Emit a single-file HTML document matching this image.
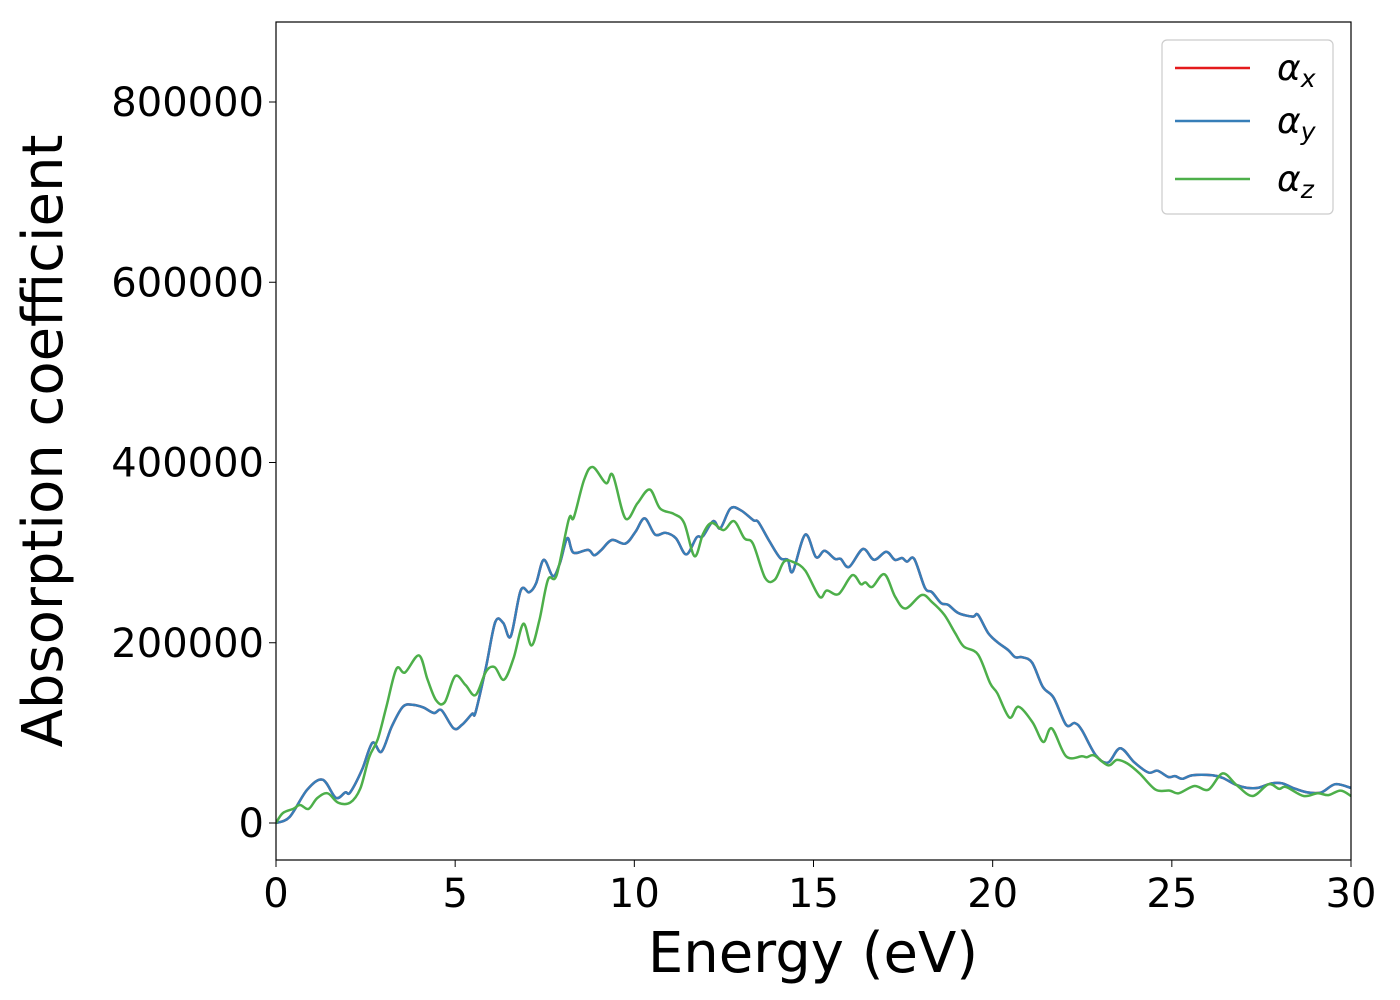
<!DOCTYPE html>
<html><head><meta charset="utf-8"><style>
body{margin:0;background:#fff;}
svg{display:block;font-family:"DejaVu Sans","Liberation Sans",sans-serif;}
</style></head><body>
<svg id="chart" width="1400" height="1000">
<rect x="0" y="0" width="1400" height="1000" fill="#fff"/>
<g id="lines"></g>
<rect x="276" y="22" width="1075" height="838" fill="none" stroke="#000" stroke-width="1.2"/>
<g id="xticks"></g>
<g id="yticks"></g>
<text x="813" y="972" font-size="56" text-anchor="middle">Energy (eV)</text>
<text transform="translate(62,441) rotate(-90)" font-size="56" text-anchor="middle">Absorption coefficient</text>
<g>
<rect x="1162" y="40" width="171" height="174" rx="5" fill="#fff" fill-opacity="0.8" stroke="#ccc" stroke-width="1.2"/>
<g><line x1="1175" y1="68" x2="1250" y2="68" stroke="#e41a1c" stroke-width="2.5"/><text x="1277" y="80" font-size="36" font-style="italic">α<tspan font-size="25" dy="7">x</tspan></text></g>
<g><line x1="1175" y1="121" x2="1250" y2="121" stroke="#377eb8" stroke-width="2.5"/><text x="1277" y="133" font-size="36" font-style="italic">α<tspan font-size="25" dy="7">y</tspan></text></g>
<g><line x1="1175" y1="179" x2="1250" y2="179" stroke="#4daf4a" stroke-width="2.5"/><text x="1277" y="191" font-size="36" font-style="italic">α<tspan font-size="25" dy="7">z</tspan></text></g>
</g>
</svg>
<script>
const xTicks=[0,5,10,15,20,25,30];
const yTicks=[0,200000,400000,600000,800000];
const energyXY=[0,0.38,0.87,1.3,1.67,1.93,2.07,2.4,2.69,2.94,3.23,3.54,3.83,4.12,4.41,4.62,4.96,5.19,5.47,5.57,5.86,6.12,6.34,6.55,6.83,7.07,7.26,7.47,7.73,7.92,8.13,8.3,8.71,8.88,9.08,9.37,9.75,10.03,10.29,10.58,10.87,11.16,11.45,11.74,11.91,12.2,12.4,12.68,12.97,13.32,13.46,13.75,14.07,14.28,14.42,
14.77,15.07,15.31,15.6,15.76,15.99,16.38,16.69,17.03,17.27,17.47,17.61,17.81,18.11,18.31,18.56,18.76,19.04,19.44,19.59,19.87,20.12,20.43,20.63,20.82,21.1,21.4,21.7,22.05,22.29,22.49,22.88,23.22,23.56,23.96,24.35,24.6,24.9,25.09,25.29,25.58,26.13,26.42,26.81,27.1,27.4,27.79,28.08,28.38,28.78,29.17,29.56,30];
const alphaY=[0,6700,37000,48000,28000,34000,34000,59000,89000,79000,107000,129000,131000,128000,122000,125000,105000,109000,121000,123000,173000,223000,222000,207000,258000,256000,266000,292000,274000,288000,316000,300000,303000,297000,303000,314000,310000,323000,338000,320000,322000,316000,298000,317000,318000,335000,327000,349000,347000,336000,334000,314000,294000,292000,279000,
320000,295000,302000,293000,293000,284000,304000,292000,301000,292000,294000,290000,293000,261000,256000,244000,242000,233000,229000,231000,211000,201000,192000,184000,184000,178000,151000,139000,109000,111000,103000,75000,67000,83000,67000,56000,58000,51000,52000,49000,53000,53000,50000,42000,39000,39000,44000,44000,39000,34000,34000,43000,39000];
const alphaX=alphaY.slice();
const energyZ=[0,0.19,0.48,0.67,0.91,1.15,1.44,1.73,2.07,2.35,2.6,2.84,3.08,3.36,3.6,3.99,4.23,4.47,4.71,5.0,5.29,5.57,5.86,6.1,6.36,6.63,6.9,7.13,7.35,7.59,7.83,8.17,8.31,8.6,8.84,9.21,9.4,9.75,10.09,10.43,10.72,11.1,11.39,11.68,11.92,12.16,12.49,12.78,13.07,13.31,13.65,13.92,14.18,14.46,
14.77,15.17,15.37,15.7,16.08,16.32,16.45,16.64,16.98,17.28,17.57,18.02,18.31,18.65,18.95,19.19,19.59,19.93,20.13,20.47,20.72,21.11,21.41,21.65,22.05,22.49,22.63,22.83,23.22,23.47,23.76,24.1,24.55,24.94,25.19,25.63,26.02,26.42,26.81,27.25,27.7,27.99,28.19,28.68,29.07,29.37,29.71,30];
const alphaZ=[0,11000,15700,20000,15700,27600,33000,22600,22600,38000,73000,93000,129000,171000,167000,186000,159000,136000,134000,163000,153000,142000,168000,173000,159000,183000,221000,197000,225000,270000,275000,337000,339000,381000,395000,377000,386000,338000,355000,370000,349000,343000,333000,296000,321000,333000,325000,335000,316000,310000,272000,270000,290000,289000,
280000,251000,258000,254000,275000,265000,267000,262000,276000,251000,238000,253000,245000,231000,211000,196000,187000,155000,144000,117000,129000,112000,90000,105000,74000,74000,73000,75000,64000,70000,66000,55000,37000,36000,33000,41000,37000,55000,42000,30000,43000,38000,40000,30000,33000,31000,36000,30000];

const X0=276,X1=1351,Y0=823,Y800=102;
const sx=e=>X0+(e-0)/30*(X1-X0);
const sy=v=>Y0-(v/800000)*(Y0-Y800);
const NS="http://www.w3.org/2000/svg";
function smoothPath(xs,ys){
  const p=xs.map((e,i)=>[sx(e),sy(ys[i])]);
  let d="M"+p[0][0].toFixed(1)+","+p[0][1].toFixed(1);
  for(let i=0;i<p.length-1;i++){
    const p0=p[i-1]||p[i],p1=p[i],p2=p[i+1],p3=p[i+2]||p2;
    const c1=[p1[0]+(p2[0]-p0[0])/6,p1[1]+(p2[1]-p0[1])/6];
    const c2=[p2[0]-(p3[0]-p1[0])/6,p2[1]-(p3[1]-p1[1])/6];
    d+="C"+c1[0].toFixed(1)+","+c1[1].toFixed(1)+" "+c2[0].toFixed(1)+","+c2[1].toFixed(1)+" "+p2[0].toFixed(1)+","+p2[1].toFixed(1);
  }
  return d;
}
const g=document.getElementById('lines');
const series=[[energyXY,alphaX,'#e41a1c','series-alpha-x'],[energyXY,alphaY,'#377eb8','series-alpha-y'],[energyZ,alphaZ,'#4daf4a','series-alpha-z']];
const clip=document.createElementNS(NS,'clipPath');clip.setAttribute('id','pc');
const cr=document.createElementNS(NS,'rect');cr.setAttribute('x',X0);cr.setAttribute('y',22);cr.setAttribute('width',X1-X0);cr.setAttribute('height',838);
clip.appendChild(cr);g.appendChild(clip);
series.forEach(s=>{
  const path=document.createElementNS(NS,'path');
  path.setAttribute('d',smoothPath(s[0],s[1]));
  path.setAttribute('fill','none');path.setAttribute('stroke',s[2]);path.setAttribute('stroke-width','2.5');
  path.setAttribute('clip-path','url(#pc)');
  
  
  g.appendChild(path);
});
const xg=document.getElementById('xticks');
xTicks.forEach(t=>{
  const l=document.createElementNS(NS,'line');
  l.setAttribute('x1',sx(t));l.setAttribute('x2',sx(t));l.setAttribute('y1',860);l.setAttribute('y2',867);l.setAttribute('stroke','#000');
  
  
  xg.appendChild(l);
  const tx=document.createElementNS(NS,'text');
  tx.setAttribute('x',sx(t));tx.setAttribute('y',907);tx.setAttribute('font-size','40');tx.setAttribute('text-anchor','middle');
  tx.textContent=t;
  
  
  xg.appendChild(tx);
});
const yg=document.getElementById('yticks');
yTicks.forEach(t=>{
  const l=document.createElementNS(NS,'line');
  l.setAttribute('x1',269);l.setAttribute('x2',276);l.setAttribute('y1',sy(t));l.setAttribute('y2',sy(t));l.setAttribute('stroke','#000');
  
  
  yg.appendChild(l);
  const tx=document.createElementNS(NS,'text');
  tx.setAttribute('x',264);tx.setAttribute('y',sy(t)+14);tx.setAttribute('font-size','40');tx.setAttribute('text-anchor','end');
  tx.textContent=t;
  
  
  yg.appendChild(tx);
});
</script>
</body></html>
